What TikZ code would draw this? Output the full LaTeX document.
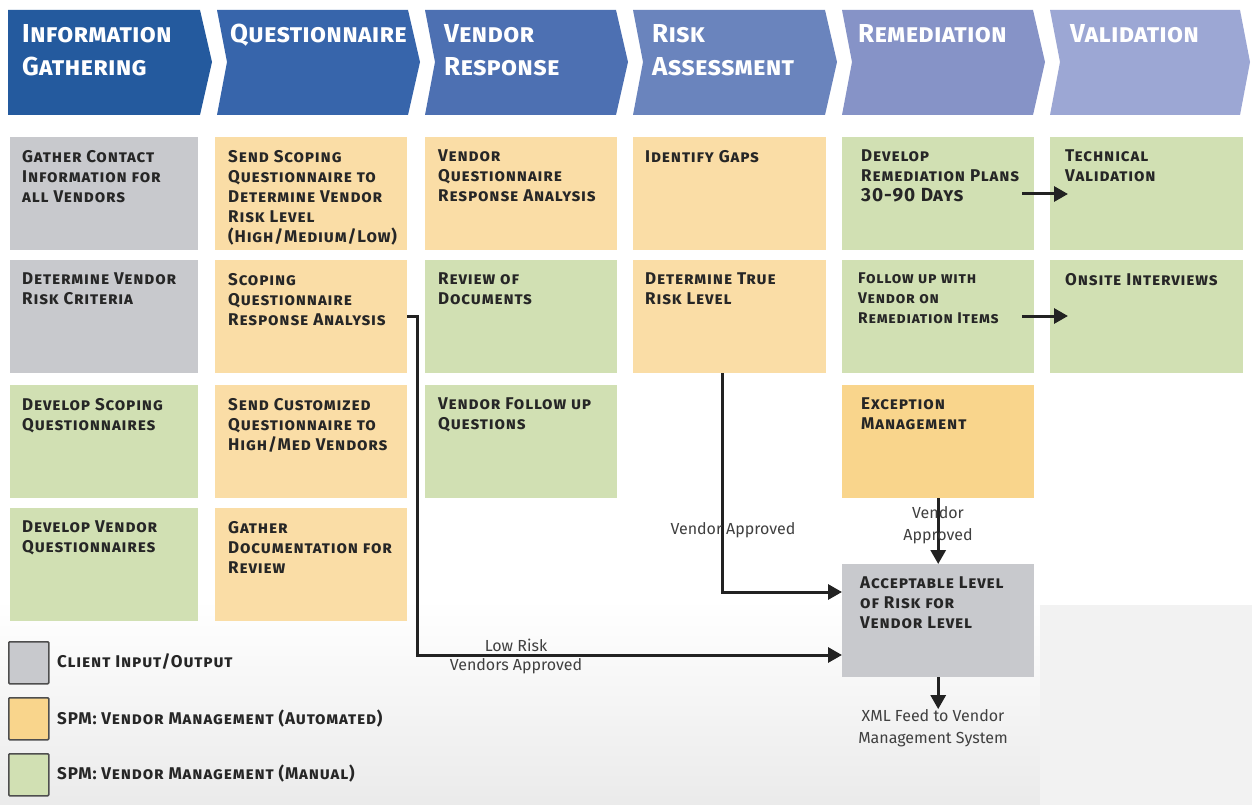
\documentclass[tikz,border=0pt]{standalone}
\usepackage{fontspec}
\setmainfont{Fira Sans}
\newfontfamily\spfam[LetterSpace=5]{Fira Sans}
\newfontfamily\hdfam[LetterSpace=1]{Fira Sans}
\usetikzlibrary{arrows.meta,calc}
\definecolor{hA}{HTML}{245A9E}
\definecolor{hB}{HTML}{3765AB}
\definecolor{hC}{HTML}{4D70B2}
\definecolor{hD}{HTML}{6A84BD}
\definecolor{hE}{HTML}{8693C7}
\definecolor{hF}{HTML}{9CA7D4}
\definecolor{cgray}{HTML}{C8C9CD}
\definecolor{corange}{HTML}{FADDA6}
\definecolor{cgreen}{HTML}{D1E0B3}
\definecolor{cexc}{HTML}{F9D58C}
\definecolor{tdark}{HTML}{262626}
\definecolor{ldark}{HTML}{222222}
\definecolor{lbl}{HTML}{404040}
\newcommand\cfnt{\spfam\fontsize{17}{20}\selectfont\bfseries\scshape}
\newcommand\hfnt{\hdfam\fontsize{26}{33}\selectfont\bfseries\scshape}
\newcommand\lfnt{\fontsize{16}{22}\selectfont}
\tikzset{
  cellbox/.style={anchor=north west, minimum width=192pt, minimum height=113pt, inner sep=0pt, draw=none},
  celltext/.style={anchor=north west, align=left, font=\cfnt, text=tdark, inner sep=0pt},
  headtext/.style={anchor=north west, align=left, font=\hfnt, text=white, inner sep=0pt},
  conn/.style={draw=ldark, line width=3pt, -{Triangle[length=14pt,width=15pt]}},
  flowlabel/.style={font=\lfnt, text=lbl, align=center, inner sep=0pt},
  legbox/.style={anchor=north west, minimum width=40pt, minimum height=42pt, inner sep=0pt, draw=ldark!80, line width=1.5pt, rounded corners=1pt},
  legtext/.style={anchor=west, font=\cfnt, text=tdark, inner sep=0pt}
}
\newcommand\cell[7][12]{% [inset] name, x, y, width, color, text
  \node[cellbox, minimum width=#5pt, fill=#6] (#2) at (#3,#4) {};
  \node[celltext] (#2t) at ($(#2.north west)+(#1,13)$) {#7};}
\begin{document}
\begin{tikzpicture}[x=1pt,y=-1pt]
\useasboundingbox (0,0) rectangle (1252,805);
\fill[white] (0,0) rectangle (1252,805);
\shade[top color=white, bottom color=black!8] (0,600) rectangle (1252,805);
\fill[black!5] (1040,605) rectangle (1252,805);
% header chevrons
\fill[hA] (8,10) -- (200,10) -- (212,62) -- (200,115) -- (8,115) -- cycle;
\fill[hB] (217,10) -- (408,10) -- (420,62) -- (408,115) -- (217,115) -- (227,62) -- cycle;
\fill[hC] (425,10) -- (616,10) -- (628,62) -- (616,115) -- (425,115) -- (435,62) -- cycle;
\fill[hD] (633,10) -- (825,10) -- (837,62) -- (825,115) -- (633,115) -- (643,62) -- cycle;
\fill[hE] (842,10) -- (1033,10) -- (1045,62) -- (1033,115) -- (842,115) -- (852,62) -- cycle;
\fill[hF] (1050,10) -- (1240,10) -- (1250,62) -- (1240,115) -- (1050,115) -- (1060,62) -- cycle;
\node[headtext] (h1) at (22,24) {Information\\Gathering};
\node[headtext] (h2) at (230,24) {Questionnaire};
\node[headtext] (h3) at (444,24) {Vendor\\Response};
\node[headtext] (h4) at (652,24) {Risk\\Assessment};
\node[headtext] (h5) at (858,24) {Remediation};
\node[headtext] (h6) at (1070,24) {Validation};
% column 1
\cell{a1}{10}{137}{188}{cgray}{Gather Contact\\Information for\\all Vendors}
\cell{a2}{10}{260}{188}{cgray}{Determine Vendor\\Risk Criteria}
\cell{a3}{10}{385}{188}{cgreen}{Develop Scoping\\Questionnaires}
\cell{a4}{10}{508}{188}{cgreen}{Develop Vendor\\Questionnaires}
% column 2
\cell[13]{b1}{215}{137}{192}{corange}{Send Scoping\\Questionnaire to\\Determine Vendor\\Risk Level\\(High/Medium/Low)}
\cell[13]{b2}{215}{260}{192}{corange}{Scoping\\Questionnaire\\Response Analysis}
\cell[13]{b3}{215}{385}{192}{corange}{Send Customized\\Questionnaire to\\High/Med Vendors}
\cell[13]{b4}{215}{508}{192}{corange}{Gather\\Documentation for\\Review}
% column 3
\cell[13]{c1}{425}{137}{192}{corange}{Vendor\\Questionnaire\\Response Analysis}
\cell[13]{c2}{425}{260}{192}{cgreen}{Review of\\Documents}
\cell[13]{c3}{425}{385}{192}{cgreen}{Vendor Follow up\\Questions}
% column 4
\cell{d1}{633}{137}{193}{corange}{Identify Gaps}
\cell{d2}{633}{260}{193}{corange}{Determine True\\Risk Level}
% column 5
\cell[19]{e1}{842}{137}{192}{cgreen}{Develop\\Remediation Plans\\{\upshape\fontsize{19}{20}\selectfont 30-90 D\scshape ays}}
\cell[16]{e2}{842}{260}{192}{cgreen}{{\fontsize{15.5}{20}\selectfont Follow up with}\\{\fontsize{15.5}{20}\selectfont Vendor on}\\{\fontsize{15.5}{20}\selectfont Remediation Items}}
\cell[19]{e3}{842}{385}{192}{cexc}{Exception\\Management}
\cell[18]{acc}{842}{564}{192}{cgray}{Acceptable Level\\of Risk for\\Vendor Level}
% column 6
\cell[15]{f1}{1050}{137}{193}{cgreen}{Technical\\Validation}
\cell[15]{f2}{1050}{260}{193}{cgreen}{Onsite Interviews}
% connectors
\coordinate (accA) at (842,592);
\coordinate (accB) at (842,655);
\coordinate (rA0) at (1022,194);
\coordinate (rA1) at (1068,194);
\coordinate (rB0) at (1022,316);
\coordinate (rB1) at (1068,316);
\coordinate (dOut) at ($(d2.south)+(-7,0)$);
\draw[conn] (b2.east) -- ++(10,0) |- (accB);
\draw[conn] (dOut) |- (accA);
\draw[conn] (e3.south) -- (acc.north);
\draw[conn] (rA0) -- (rA1);
\draw[conn] (rB0) -- (rB1);
\node[flowlabel] (xml) at (933,728) {XML Feed to Vendor\\Management System};
\draw[conn] (acc.south) -- (acc.south |- xml.north);
\node[flowlabel] (lr1) at (516,645) {Low Risk};
\node[flowlabel] (lr2) at (516,666) {Vendors Approved};
\node[flowlabel] (va1) at (733,530) {Vendor\hspace{4pt}Approved};
\node[flowlabel] (va2) at (938,525) {Vendor\\Approved};
% legend
\node[legbox, fill=cgray] (lg1) at (8,641) {};
\node[legbox, fill=cexc] (lg2) at (8,697) {};
\node[legbox, fill=cgreen] (lg3) at (8,753) {};
\node[legtext] (lt1) at (57,662) {Client Input/Output};
\node[legtext] (lt2) at (57,719) {SPM: Vendor Management (Automated)};
\node[legtext] (lt3) at (57,774) {SPM: Vendor Management (Manual)};
\end{tikzpicture}
\end{document}
